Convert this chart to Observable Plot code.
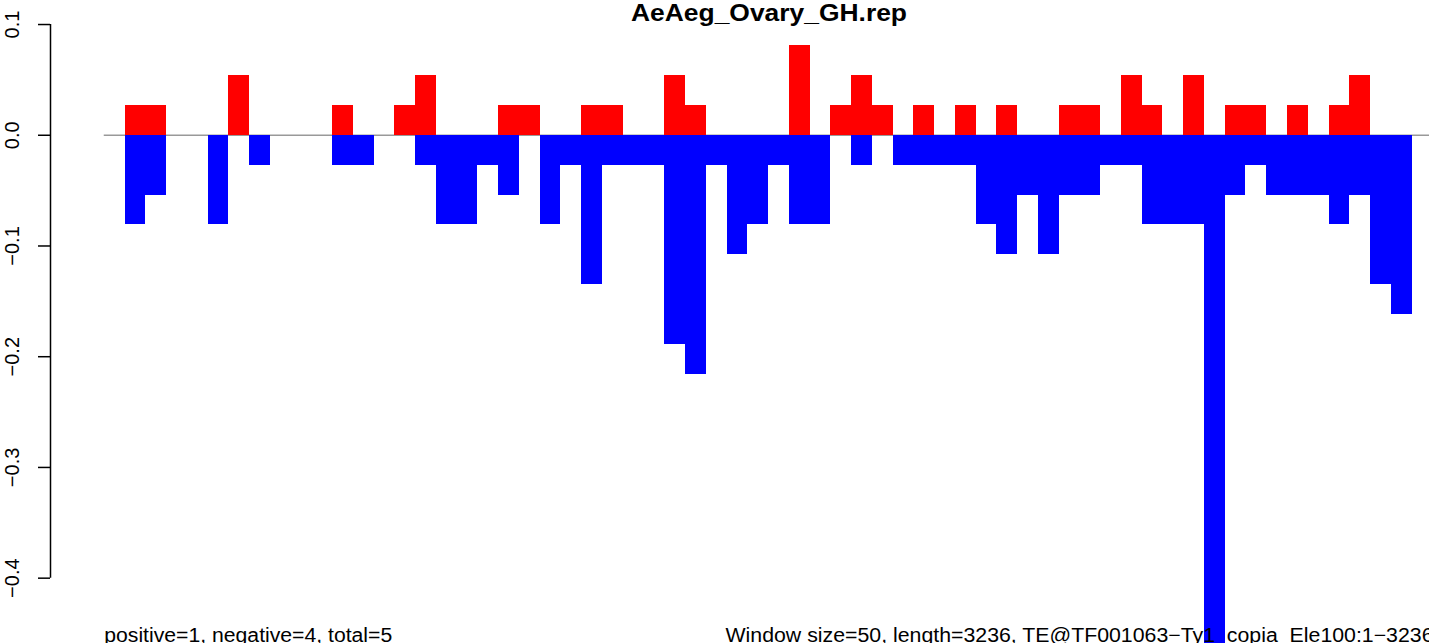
<!DOCTYPE html>
<html>
<head>
<meta charset="utf-8">
<script src="https://cdn.jsdelivr.net/npm/d3@7"></script>
<script src="https://cdn.jsdelivr.net/npm/@observablehq/plot@0.6"></script>
<style>
  html, body { margin: 0; padding: 0; background: #fff; overflow: hidden; }
  #chart svg { display: block; overflow: hidden; }
</style>
</head>
<body>
<div id="chart"></div>
<script>
const title = "AeAeg_Ovary_GH.rep";
const leftNote = "positive=1, negative=4, total=5";
const rightNote = "Window size=50, length=3236, TE@TF001063\u2212Ty1_copia_Ele100:1\u22123236";
const windowSize = 50;
const teLength = 3236;

// per-window values (window i covers [i*50, i*50+50])
const positive = [
  0, 0.027, 0.027, 0, 0, 0, 0.054, 0, 0, 0,
  0, 0.027, 0, 0, 0.027, 0.054, 0, 0, 0, 0.027,
  0.027, 0, 0, 0.027, 0.027, 0, 0, 0.054, 0.027, 0,
  0, 0, 0, 0.081, 0, 0.027, 0.054, 0.027, 0, 0.027,
  0, 0.027, 0, 0.027, 0, 0, 0.027, 0.027, 0, 0.054,
  0.027, 0, 0.054, 0, 0.027, 0.027, 0, 0.027, 0, 0.027,
  0.054, 0, 0, 0, 0
];
const negative = [
  0, -0.081, -0.054, 0, 0, -0.081, 0, -0.027, 0, 0,
  0, -0.027, -0.027, 0, 0, -0.027, -0.081, -0.081, -0.027, -0.054,
  0, -0.081, -0.027, -0.135, -0.027, -0.027, -0.027, -0.189, -0.216, -0.027,
  -0.108, -0.081, -0.027, -0.081, -0.081, 0, -0.027, 0, -0.027, -0.027,
  -0.027, -0.027, -0.081, -0.108, -0.054, -0.108, -0.054, -0.054, -0.027, -0.027,
  -0.081, -0.081, -0.081, -0.486, -0.054, -0.027, -0.054, -0.054, -0.054, -0.081,
  -0.054, -0.135, -0.162, 0, 0
];
const yTicks = [0.1, 0.0, -0.1, -0.2, -0.3, -0.4];

const rows = positive.map((p, i) => ({start: i * windowSize, pos: p, neg: negative[i]}));
const xDomain = [-0.04 * teLength, 3192];
const yDomain = [-0.459, 0.1217];

const chart = Plot.plot({
  width: 1429,
  height: 643,
  marginLeft: 50,
  marginRight: 0,
  marginTop: 0,
  marginBottom: 0,
  x: {domain: xDomain, axis: null},
  y: {domain: yDomain, axis: null, label: null},
  style: {fontFamily: "'Liberation Sans', Arial, Helvetica, sans-serif", background: "white", color: "black"},
  marks: [
    Plot.ruleX([xDomain[0]], {y1: d3.min(yTicks), y2: d3.max(yTicks), stroke: "black", strokeWidth: 1.5}),
    Plot.axisY(yTicks, {anchor: "left", tickSize: 12, tickRotate: -90, tickPadding: 19.7, fontSize: 20,
      tickFormat: d3.format(".1f"), label: null, strokeWidth: 1.5, stroke: "black", fill: "black"}),
    Plot.ruleY([0], {x1: 0, x2: teLength, stroke: "#999999", strokeWidth: 1.5}),
    Plot.rect(rows.filter(d => d.pos !== 0), {x1: "start", x2: d => d.start + windowSize, y1: 0, y2: "pos",
      fill: "#ff0000", shapeRendering: "crispEdges"}),
    Plot.rect(rows.filter(d => d.neg !== 0), {x1: "start", x2: d => d.start + windowSize, y1: 0, y2: "neg",
      fill: "#0000ff", shapeRendering: "crispEdges"}),
    Plot.text([title], {x: teLength / 2, frameAnchor: "top", text: d => d, fontWeight: "bold", fontSize: 23,
      lineAnchor: "bottom", dy: 20.7, dx: -7, fill: "black"}),
    Plot.text([leftNote], {x: 0, frameAnchor: "bottom", text: d => d, textAnchor: "start", lineAnchor: "bottom",
      dy: -1.7, fontSize: 20, fill: "black"}),
    Plot.text([rightNote], {frameAnchor: "bottom-right", text: d => d, textAnchor: "end", lineAnchor: "bottom",
      dx: 4, dy: -1.7, fontSize: 20, fill: "black"})
  ]
});

const sel = d3.select(chart);
const fit = (content, len) => sel.selectAll("text")
  .filter(function () { return this.textContent === content; })
  .attr("textLength", len).attr("lengthAdjust", "spacingAndGlyphs");
fit(title, 276);
fit(leftNote, 288);
fit(rightNote, 708);

document.getElementById("chart").appendChild(chart);
</script>
</body>
</html>
